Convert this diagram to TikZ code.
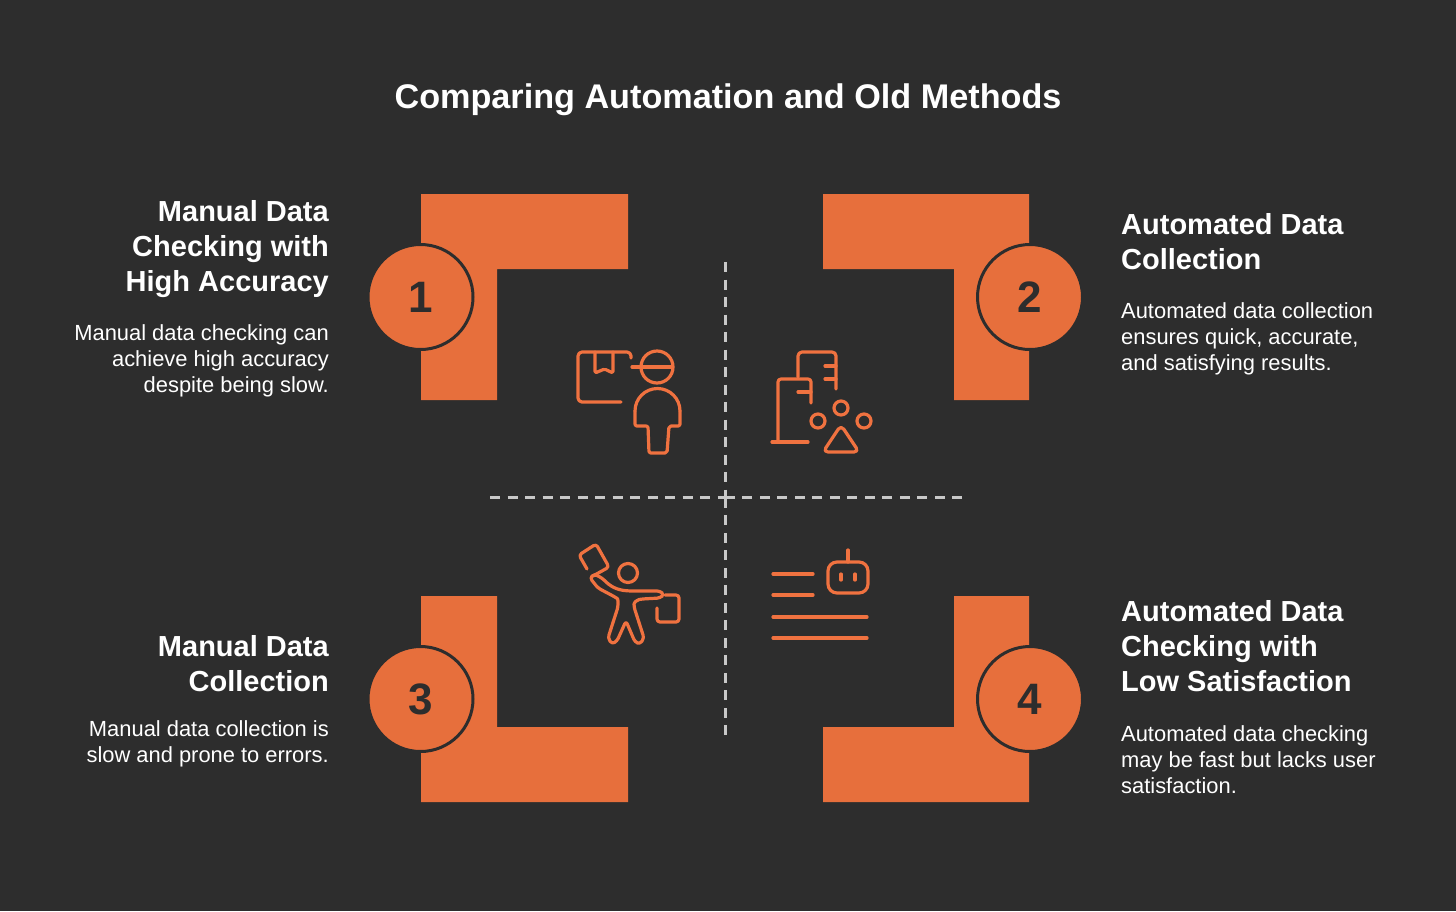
\documentclass[tikz,border=0pt]{standalone}
\usepackage{fontspec}
\setmainfont{Liberation Sans}
\usepackage{xcolor}
\usetikzlibrary{positioning, calc}
\definecolor{cBack}{RGB}{45,45,45}
\definecolor{cFill}{RGB}{231,111,60}
\definecolor{cIcon}{RGB}{240,114,64}
\definecolor{cDash}{RGB}{200,200,200}
\tikzset{
	corner/.style={fill=cFill, draw=none},
	badge/.style={circle, draw=cBack, line width=3pt, fill=cFill, minimum size=105pt, inner sep=0pt, text=cBack, font=\fontsize{44}{44}\selectfont\bfseries},
	headl/.style={anchor=north east, align=right, inner sep=0pt, text=white, font=\fontsize{29}{35}\selectfont\bfseries},
	headr/.style={anchor=north west, align=left, inner sep=0pt, text=white, font=\fontsize{29}{35}\selectfont\bfseries},
	bodyl/.style={anchor=north east, align=right, inner sep=0pt, text=white, font=\fontsize{21.9}{26}\selectfont},
	bodyr/.style={anchor=north west, align=left, inner sep=0pt, text=white, font=\fontsize{21.9}{26}\selectfont},
	icon/.style={draw=cIcon, line width=3.2pt, line cap=round, line join=round},
	divider/.style={draw=cDash, line width=3pt, dash pattern=on 10pt off 7.5pt},
}
\begin{document}
\begin{tikzpicture}[x=1pt, y=-1pt]
	\fill[cBack] (0,0) rectangle (1456,911);
	\useasboundingbox (0,0) rectangle (1456,911);
	\node[text=white, inner sep=0pt, font=\fontsize{34.2}{40}\selectfont\bfseries] (title) at (728,100) {Comparing Automation and Old Methods};
	% corner pieces
	\fill[corner] (421,194) -- (628,194) -- (628,269) -- (497,269) -- (497,400) -- (421,400) -- cycle;
	\fill[corner] (1029,194) -- (823,194) -- (823,269) -- (954,269) -- (954,400) -- (1029,400) -- cycle;
	\fill[corner] (421,802) -- (628,802) -- (628,727) -- (497,727) -- (497,596) -- (421,596) -- cycle;
	\fill[corner] (1029,802) -- (823,802) -- (823,727) -- (954,727) -- (954,596) -- (1029,596) -- cycle;
	\node[badge] (one) at (420.5,297) {1};
	\node[badge] (two) at (1030,297) {2};
	\node[badge] (three) at (420.5,699) {3};
	\node[badge] (four) at (1030,699) {4};
	% dividers
	\coordinate (mid) at (725,497.5);
	\coordinate (vtop) at (725,262);
	\coordinate (vbot) at (725,735);
	\coordinate (hleft) at (490,497.5);
	\coordinate (hright) at (962,497.5);
	\foreach \from in {vtop, vbot, hleft, hright}
		\draw[divider] (\from) -- (mid);
	% labels
	\node[headl] (head1) at (329,200) {Manual Data\\Checking with\\High Accuracy};
	\node[bodyl] (body1) at (329,324) {Manual data checking can\\achieve high accuracy\\despite being slow.};
	\node[headr] (head2) at (1121,213) {Automated Data\\Collection};
	\node[bodyr] (body2) at (1121,302) {Automated data collection\\ensures quick, accurate,\\and satisfying results.};
	\node[headl] (head3) at (329,635) {Manual Data\\Collection};
	\node[bodyl] (body3) at (329,720) {Manual data collection is\\slow and prone to errors.};
	\node[headr] (head4) at (1121,600) {Automated Data\\Checking with\\Low Satisfaction};
	\node[bodyr] (body4) at (1121,725) {Automated data checking\\may be fast but lacks user\\satisfaction.};
	% icon: courier with parcel
	\draw[icon, rounded corners=4pt] (621,402) -- (578,402) -- (578,352) -- (631,352) -- (631,358);
	\draw[icon, rounded corners=1.5pt] (595,352) -- (595,373) -- (604.5,369) -- (613,373) -- (613,352);
	\draw[icon] (657,367) circle (16);
	\draw[icon] (632,367) -- (672,367);
	\draw[icon] (635,411) arc (180:360:22.5 and 22.5);
	\draw[icon, rounded corners=2pt] (635,411) -- (635,426) -- (648,426) -- (649,453) -- (667,453) -- (669,426) -- (680,426) -- (680,411);
	% icon: buildings and shapes
	\draw[icon, rounded corners=4pt] (798,377) -- (798,352) -- (836,352) -- (836,389);
	\draw[icon] (825,366) -- (836,366) (825,379) -- (836,379);
	\draw[icon, rounded corners=3pt] (778,442) -- (778,379) -- (811,379) -- (811,403);
	\draw[icon] (798,392) -- (811,392) (772,442) -- (808,442);
	\draw[icon] (841,408) circle (7) (818,421) circle (7) (864,421) circle (7);
	\draw[icon, rounded corners=5pt] (841,425) -- (823,452) -- (859,452) -- cycle;
	% icon: walker with packet and bag
	\draw[icon] (628,573) circle (9.5);
	\draw[icon, rounded corners=3pt] (587,569) -- (579,555) -- (596,544) -- (609,567) -- (593,576);
	\draw[icon, rounded corners=3pt] (594,574) -- (602,578) .. controls (610,586) and (616,590) .. (630,591) -- (660,591) -- (664,594.5) -- (660,598) -- (642,599) .. controls (636,600) and (634,603) .. (634,607) -- (644,638) -- (640,644) -- (635,642) -- (626,621) -- (617,641) -- (612,644) -- (608,638) -- (618,607) .. controls (618,602) and (618,599) .. (615,597) -- (598,588) -- (590,578) -- cycle;
	\draw[icon, rounded corners=3pt] (665,595) -- (679,595) -- (679,622) -- (657,622) -- (657,608);
	% icon: robot and text lines
	\draw[icon] (773,574) -- (813,574) (773,595) -- (813,595) (773,617) -- (867,617) (773,638) -- (867,638);
	\draw[icon, rounded corners=9pt] (828,562) rectangle (868,593);
	\draw[icon] (848,550) -- (848,562) (841,574) -- (841,580) (855,574) -- (855,580);
\end{tikzpicture}
\end{document}
